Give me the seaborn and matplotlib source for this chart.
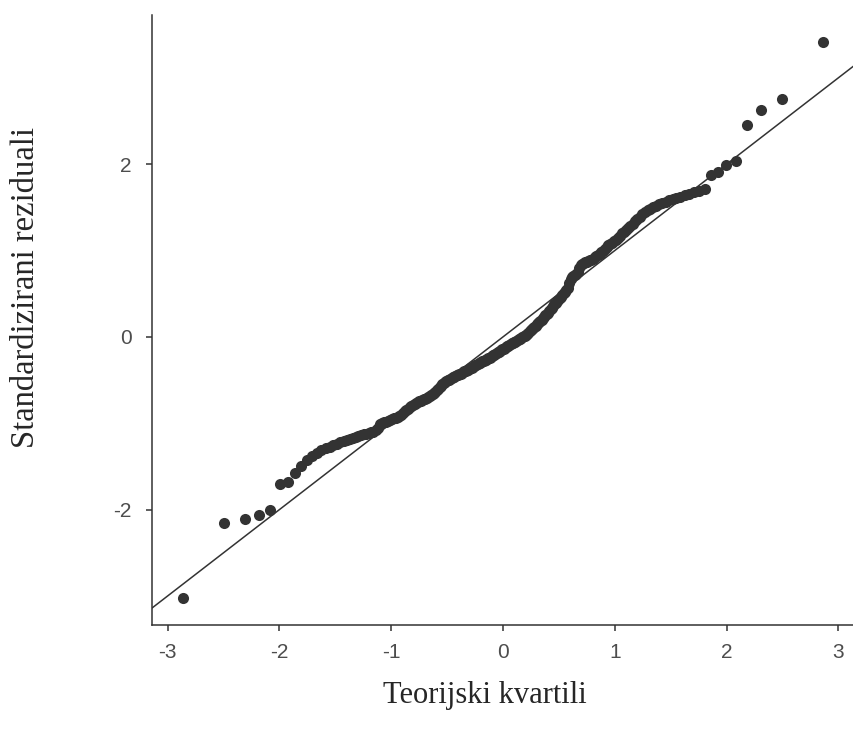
import pandas as pd
import seaborn as sns
import matplotlib.pyplot as plt
from statistics import NormalDist

# sorted standardized residuals
lower_tail = [-3.02, -2.155, -2.11, -2.06, -2.00, -1.70, -1.675, -1.58, -1.49]
body = [
    -1.43, -1.38, -1.34, -1.31, -1.29, -1.27, -1.25, -1.235, -1.22, -1.21,
    -1.19, -1.18, -1.17, -1.16, -1.15, -1.14, -1.13, -1.12, -1.11, -1.105,
    -1.10, -1.08, -1.05, -1.01, -0.995, -0.985, -0.98, -0.97, -0.965, -0.955,
    -0.945, -0.935, -0.925, -0.915, -0.90, -0.88, -0.86, -0.845, -0.83, -0.815,
    -0.80, -0.785, -0.775, -0.765, -0.755, -0.745, -0.74, -0.73, -0.725, -0.715,
    -0.705, -0.695, -0.685, -0.67, -0.66, -0.645, -0.635, -0.62, -0.60, -0.585,
    -0.565, -0.55, -0.535, -0.52, -0.51, -0.50, -0.495, -0.49, -0.48, -0.47,
    -0.46, -0.455, -0.445, -0.44, -0.43, -0.425, -0.415, -0.41, -0.40, -0.39,
    -0.385, -0.38, -0.37, -0.365, -0.355, -0.35, -0.34, -0.33, -0.325, -0.315,
    -0.305, -0.30, -0.29, -0.285, -0.275, -0.27, -0.265, -0.26, -0.25, -0.24,
    -0.235, -0.225, -0.215, -0.21, -0.20, -0.19, -0.18, -0.17, -0.16, -0.155,
    -0.145, -0.135, -0.125, -0.115, -0.11, -0.10, -0.09, -0.085, -0.075, -0.07,
    -0.06, -0.055, -0.045, -0.04, -0.03, -0.02, -0.01, 0.00, 0.01, 0.015,
    0.02, 0.035, 0.05, 0.065, 0.08, 0.09, 0.10, 0.115, 0.13, 0.145,
    0.16, 0.17, 0.185, 0.20, 0.215, 0.23, 0.25, 0.265, 0.28, 0.30,
    0.32, 0.34, 0.36, 0.38, 0.395, 0.41, 0.43, 0.445, 0.465, 0.49,
    0.505, 0.52, 0.54, 0.57, 0.62, 0.67, 0.69, 0.71, 0.72, 0.73,
    0.75, 0.80, 0.83, 0.845, 0.855, 0.865, 0.87, 0.88, 0.89, 0.895,
    0.905, 0.92, 0.935, 0.95, 0.965, 0.985, 1.00, 1.02, 1.04, 1.06,
    1.075, 1.09, 1.105, 1.12, 1.145, 1.17, 1.20, 1.215, 1.235, 1.26,
    1.285, 1.31, 1.34, 1.365, 1.39, 1.42, 1.445, 1.465, 1.48, 1.50,
    1.52, 1.535, 1.55, 1.565, 1.58, 1.595, 1.61, 1.625, 1.64, 1.655,
    1.675, 1.69, 1.71,
]
upper_tail = [1.87, 1.915, 1.985, 2.04, 2.45, 2.63, 2.757, 3.41]

x_ticks = [-3, -2, -1, 0, 1, 2, 3]
y_ticks = [-2, 0, 2]
x_title = "Teorijski kvartili"
y_title = "Standardizirani reziduali"

residuals = lower_tail + body + upper_tail
n = len(residuals)
# theoretical normal quantiles, ppoints style (i - 0.5) / n
theoretical = [NormalDist().inv_cdf((i + 0.5) / n) for i in range(n)]
df = pd.DataFrame({"teorijski": theoretical, "rezidual": residuals})

sns.set_style("white")
plt.rcParams["font.family"] = ["Liberation Sans", "DejaVu Sans"]
plt.rcParams["axes.unicode_minus"] = False

dark = "#333333"
fig = plt.figure(figsize=(8.54, 7.40), dpi=100)
ax = fig.add_axes([0.178, 0.155, 0.822, 0.825])

sns.scatterplot(data=df, x="teorijski", y="rezidual", color=dark,
                s=64, linewidth=0, ax=ax, zorder=3)
ax.axline((0, 0), slope=1, color=dark, lw=1.1, zorder=2)

ax.set_xlim(-3.14, 3.14)
ax.set_ylim(-3.34, 3.73)
ax.set_xticks(x_ticks)
ax.set_yticks(y_ticks)
ax.tick_params(axis="both", direction="out", length=4.5, width=1.1,
               bottom=True, left=True,
               color=dark, labelcolor="#4d4d4d", labelsize=15)
ax.tick_params(axis="x", pad=8)
ax.tick_params(axis="y", pad=10)
ax.set_xlabel("")
ax.set_ylabel("")

sns.despine(ax=ax)
for side in ["left", "bottom"]:
    ax.spines[side].set_color(dark)
    ax.spines[side].set_linewidth(1.1)

fig.text(0.568, 0.06, x_title, ha="center", va="center",
         fontsize=22, family="Liberation Serif")
fig.text(0.030, 0.612, y_title, ha="center", va="center", rotation=90,
         fontsize=23.5, family="Liberation Serif")

fig.savefig("out.png", dpi=100)
